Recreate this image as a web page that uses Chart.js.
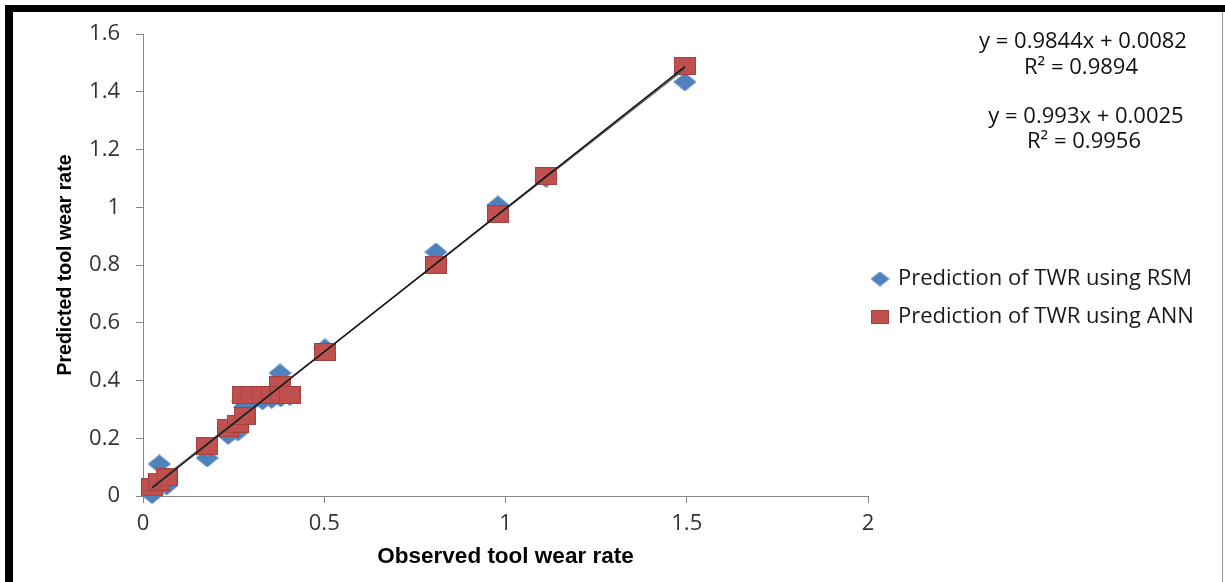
<!DOCTYPE html>
<html>
<head>
<meta charset="utf-8">
<script src="https://cdn.jsdelivr.net/npm/chart.js@4.4.1/dist/chart.umd.min.js"></script>
<style>
  body { margin: 0; background: #fff; }
  canvas { display: block; }
</style>
</head>
<body>
<canvas id="myChart" width="1225" height="582"></canvas>
<script>

// observed tool wear rate (same experiments for both models)
const observed     = [0.025, 0.045, 0.065, 0.177, 0.235, 0.262, 0.280, 0.275, 0.300, 0.330, 0.355, 0.378, 0.380, 0.405, 0.502, 0.808, 0.979, 1.112, 1.495];
const rsmPredicted = [0.005, 0.111, 0.035, 0.132, 0.210, 0.222, 0.308, 0.330, 0.325, 0.330, 0.335, 0.426, 0.340, 0.345, 0.513, 0.845, 1.008, 1.100, 1.434];
const annPredicted = [0.030, 0.050, 0.065, 0.173, 0.236, 0.250, 0.277, 0.350, 0.350, 0.350, 0.350, 0.384, 0.350, 0.350, 0.499, 0.800, 0.977, 1.108, 1.489];

const seriesNames = ['Prediction of TWR using RSM', 'Prediction of TWR using ANN'];

// linear trendlines as printed on the chart
const trendSlope     = [0.9844, 0.993];
const trendIntercept = [0.0082, 0.0025];
const trendR2        = [0.9894, 0.9956];
const trendX         = [0.025, 1.495];

const xTicks = [0, 0.5, 1, 1.5, 2];
const yTicks = [0, 0.2, 0.4, 0.6, 0.8, 1, 1.2, 1.4, 1.6];

const xTitle = 'Observed tool wear rate';
const yTitle = 'Predicted tool wear rate';

// marker pictures (the source markers are a bit wider than tall)
function diamond(w, h, color) {
    const c = document.createElement('canvas');
    c.width = w; c.height = h;
    const g = c.getContext('2d');
    g.fillStyle = color;
    g.beginPath();
    g.moveTo(w / 2, 0);
    g.lineTo(w, h / 2);
    g.lineTo(w / 2, h);
    g.lineTo(0, h / 2);
    g.closePath();
    g.fill();
    return c;
}

function square(w, h, color, edge) {
    const c = document.createElement('canvas');
    c.width = w; c.height = h;
    const g = c.getContext('2d');
    g.fillStyle = color;
    g.fillRect(0, 0, w, h);
    g.strokeStyle = edge;
    g.lineWidth = 1;
    g.strokeRect(0.5, 0.5, w - 1, h - 1);
    return c;
}

const blue = '#4F81BD';
const red = '#C0504D';
const pointMarkers = [diamond(23, 19, blue), square(22, 18, red, '#A3413E')];
const legendMarkers = [diamond(19, 15, blue), square(18, 14, red, '#A3413E')];

function pairs(xs, ys) {
    return xs.map((x, i) => ({ x: x, y: ys[i] }));
}

function trendData(i) {
    return trendX.map(x => ({ x: x, y: trendSlope[i] * x + trendIntercept[i] }));
}

const textFont = "'Open Sans', sans-serif";

// frame round the picture
const framePlugin = {
    id: 'frame',
    beforeDraw(c) {
        const ctx = c.ctx;
        ctx.save();
        ctx.fillStyle = '#fff';
        ctx.fillRect(0, 0, c.width, c.height);
        ctx.fillStyle = '#000';
        ctx.fillRect(5, 5, c.width - 5, 7);
        ctx.fillRect(5, 5, 8, c.height - 5);
        ctx.strokeStyle = '#9a9a9a';
        ctx.lineWidth = 1;
        ctx.beginPath();
        ctx.moveTo(1222.5, 12);
        ctx.lineTo(1222.5, c.height);
        ctx.stroke();
        ctx.restore();
    }
};

// trendline equations, top right
const equationPlugin = {
    id: 'equations',
    afterDraw(c) {
        const ctx = c.ctx;
        ctx.save();
        ctx.font = '22px ' + textFont;
        ctx.fillStyle = '#111';
        ctx.textAlign = 'center';
        ctx.textBaseline = 'middle';
        const rows = [[1083, 42, 68], [1086, 117, 142]];
        rows.forEach((r, i) => {
            ctx.fillText('y = ' + trendSlope[i] + 'x + ' + trendIntercept[i], r[0], r[1]);
            ctx.fillText('R\u00B2 = ' + trendR2[i], r[0] - 2, r[2]);
        });
        ctx.restore();
    }
};

// move the legend next to the plot like the source
const legendPlugin = {
    id: 'placeLegend',
    afterLayout(c) {
        const lg = c.legend;
        const w = lg.width;
        lg.left = 857;
        lg.right = lg.left + w;
        lg.top -= 10;
        lg.bottom -= 10;
    }
};

const chart = new Chart(document.getElementById('myChart'), {
    type: 'scatter',
    data: {
        datasets: [
            {
                label: seriesNames[0],
                data: pairs(observed, rsmPredicted),
                pointStyle: pointMarkers[0],
                pointRadius: 10,
                backgroundColor: blue,
                borderColor: blue,
                order: 3,
                clip: false
            },
            {
                label: seriesNames[1],
                data: pairs(observed, annPredicted),
                pointStyle: pointMarkers[1],
                pointRadius: 10,
                backgroundColor: red,
                borderColor: red,
                order: 2,
                clip: false
            },
            {
                label: 'RSM trend',
                data: trendData(0),
                showLine: true,
                borderColor: '#5a5a5a',
                borderWidth: 1.5,
                pointRadius: 0,
                order: 1
            },
            {
                label: 'ANN trend',
                data: trendData(1),
                showLine: true,
                borderColor: '#111',
                borderWidth: 1.3,
                pointRadius: 0,
                order: 0
            }
        ]
    },
    options: {
        responsive: false,
        animation: false,
        events: [],
        layout: {
            padding: { left: 13, top: 34, right: 17, bottom: 0 }
        },
        plugins: {
            tooltip: { enabled: false },
            legend: {
                position: 'right',
                maxWidth: 340,
                labels: {
                    usePointStyle: true,
                    boxWidth: 14,
                    boxHeight: 14,
                    padding: 16,
                    color: '#1a1a1a',
                    font: { family: textFont, size: 22 },
                    filter: item => item.datasetIndex < 2,
                    sort: (a, b) => a.datasetIndex - b.datasetIndex,
                    generateLabels: c => {
                        const items = Chart.defaults.plugins.legend.labels.generateLabels(c);
                        items.forEach(it => {
                            if (it.datasetIndex < 2) it.pointStyle = legendMarkers[it.datasetIndex];
                        });
                        return items;
                    }
                }
            }
        },
        scales: {
            x: {
                type: 'linear',
                min: 0,
                max: 2,
                afterBuildTicks: s => { s.ticks = xTicks.map(v => ({ value: v })); },
                afterFit: s => { s.height = 86; },
                grid: {
                    drawOnChartArea: false,
                    drawTicks: true,
                    tickLength: 7,
                    color: '#868686'
                },
                border: { display: true, color: '#868686', width: 1 },
                ticks: {
                    padding: 8,
                    color: '#333',
                    font: { family: textFont, size: 22 },
                    callback: v => String(v)
                },
                title: {
                    display: true,
                    text: xTitle,
                    color: '#000',
                    padding: { top: 0, bottom: 12 },
                    font: { family: "'Liberation Sans', Arial, sans-serif", size: 22.5, weight: 'bold' }
                }
            },
            y: {
                type: 'linear',
                min: 0,
                max: 1.6,
                afterBuildTicks: s => { s.ticks = yTicks.map(v => ({ value: v })); },
                afterFit: s => { s.width = 130; },
                grid: {
                    drawOnChartArea: false,
                    drawTicks: true,
                    tickLength: 7,
                    color: '#868686'
                },
                border: { display: true, color: '#868686', width: 1 },
                ticks: {
                    padding: 16,
                    color: '#333',
                    font: { family: textFont, size: 22 },
                    callback: v => String(v)
                },
                title: {
                    display: true,
                    text: yTitle,
                    color: '#000',
                    padding: { top: 41, bottom: 0 },
                    font: { family: "'Liberation Sans', Arial, sans-serif", size: 19.5, weight: 'bold' }
                }
            }
        }
    },
    plugins: [framePlugin, equationPlugin, legendPlugin]
});

</script>
</body>
</html>
